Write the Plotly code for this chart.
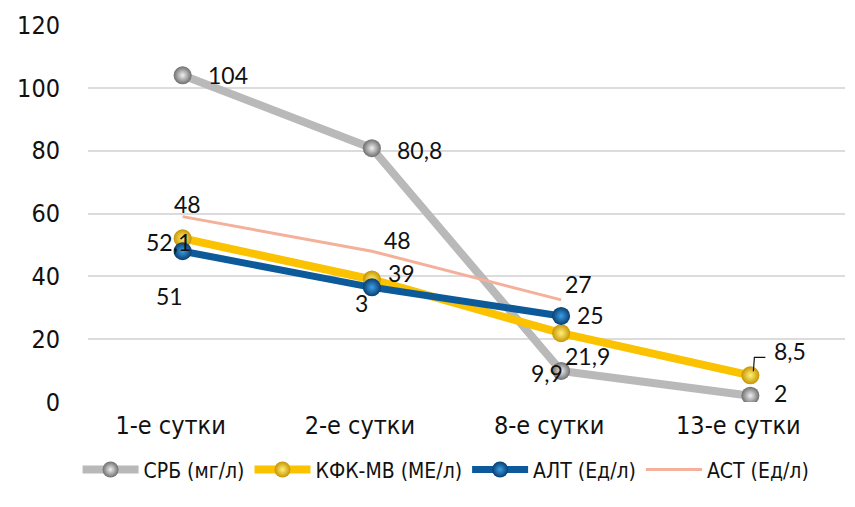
import plotly.graph_objects as go

categories = ["1-е сутки", "2-е сутки", "8-е сутки", "13-е сутки"]

crp_values = [104, 80.8, 9.9, 2]
crp_labels = ["104", "80,8", "9,9", "2"]

ck_values = [52.1, 39, 21.9, 8.5]
ck_labels = ["52,1", "39", "21,9", "8,5"]

alt_values = [48, 36.5, 27.4, None]
alt_labels = ["51", "3", "25", ""]

ast_values = [59, 48, 32.5, None]
ast_labels = ["48", "48", "27", ""]

y_ticks = [0, 20, 40, 60, 80, 100, 120]

series_names = ["СРБ (мг/л)", "КФК-МВ (МЕ/л)", "АЛТ (Ед/л)", "АСТ (Ед/л)"]

TICK_FONT = "DejaVu Sans Condensed, DejaVu Sans, sans-serif"
LABEL_FONT = "Lato, Open Sans, sans-serif"

fig = go.Figure()

fig.add_trace(go.Scatter(
    x=categories, y=crp_values, name=series_names[0], mode="lines+markers",
    line=dict(color="#b9b9b9", width=8),
    marker=dict(size=18, color="#6e6e6e", gradient=dict(type="radial", color="#f0f0f0")),
))
fig.add_trace(go.Scatter(
    x=categories, y=ck_values, name=series_names[1], mode="lines+markers",
    line=dict(color="#fbc200", width=8),
    marker=dict(size=18, color="#c89400", gradient=dict(type="radial", color="#fff27a")),
))
fig.add_trace(go.Scatter(
    x=categories, y=alt_values, name=series_names[2], mode="lines+markers",
    line=dict(color="#0d5a9a", width=7),
    marker=dict(size=18, color="#083e70", gradient=dict(type="radial", color="#3d9ee6")),
))
fig.add_trace(go.Scatter(
    x=categories, y=ast_values, name=series_names[3], mode="lines",
    line=dict(color="#f4b09a", width=3),
))

# label offsets (pixels) for each series
crp_shift = [(45, 0), (48, -2), (-14, -2), (30, 3)]
ck_shift = [(-14, -4), (30, 6), (26, -23), (40, 24)]
alt_shift = [(-13, -45), (-10, -16), (29, 1)]
ast_shift = [(5, 13), (26, 11), (17, 16)]

def add_labels(vals, labels, shifts):
    for c, v, t, s in zip(categories, vals, labels, shifts):
        if v is None or t == "":
            continue
        fig.add_annotation(x=c, y=v, text=t, showarrow=False,
                           xshift=s[0], yshift=s[1],
                           font=dict(family=LABEL_FONT, size=23, color="#111111"))

add_labels(crp_values, crp_labels, crp_shift)
add_labels(ck_values, ck_labels, ck_shift)
add_labels(alt_values, alt_labels, alt_shift)
add_labels(ast_values, ast_labels, ast_shift)

# leader line for the last КФК-МВ label
fig.add_shape(type="path", xref="x", yref="y",
              xsizemode="pixel", ysizemode="pixel",
              xanchor=categories[3], yanchor=ck_values[3],
              path="M 3,4 L 4,18 L 15,18",
              line=dict(color="#111111", width=1.2))

fig.update_layout(
    width=847, height=499,
    margin=dict(l=80, r=10, t=17, b=105),
    paper_bgcolor="white", plot_bgcolor="white",
    showlegend=True,
    legend=dict(orientation="h", x=0.473, xanchor="center", y=-0.18, yanchor="middle",
                font=dict(family=TICK_FONT, size=21, color="#111111"),
                itemwidth=56, tracegroupgap=0),
    xaxis=dict(type="category", range=[-0.5, 3.5], showgrid=False, zeroline=False,
               showline=False, ticks="", automargin=False, ticklabelstandoff=6,
               ticklabelshift=-12,
               tickfont=dict(family=TICK_FONT, size=25, color="#111111")),
    yaxis=dict(range=[0, 120], tickvals=y_ticks, showgrid=True, gridcolor="#dcdcdc",
               gridwidth=1.5, zeroline=False, showline=False, ticks="", automargin=False,
               ticklabelstandoff=27,
               tickfont=dict(family=TICK_FONT, size=25, color="#111111")),
)

fig.write_html("out.html")
